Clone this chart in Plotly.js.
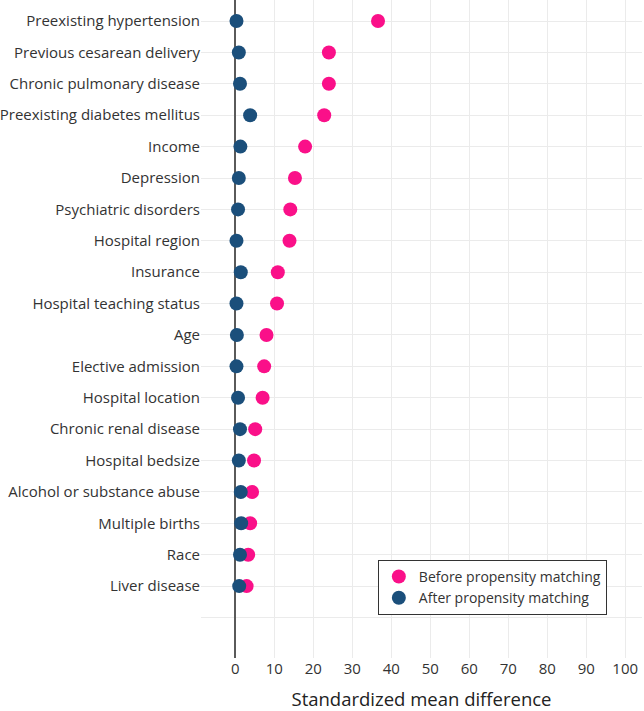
<!DOCTYPE html>
<html>
<head>
<meta charset="utf-8">
<script src="https://cdn.plot.ly/plotly-3.0.1.min.js"></script>
<style>html,body{margin:0;padding:0;background:#fff;}#chart{width:644px;height:711px;}</style>
</head>
<body>
<div id="chart"></div>
<script>
const categories = [
  "Preexisting hypertension",
  "Previous cesarean delivery",
  "Chronic pulmonary disease",
  "Preexisting diabetes mellitus",
  "Income",
  "Depression",
  "Psychiatric disorders",
  "Hospital region",
  "Insurance",
  "Hospital teaching status",
  "Age",
  "Elective admission",
  "Hospital location",
  "Chronic renal disease",
  "Hospital bedsize",
  "Alcohol or substance abuse",
  "Multiple births",
  "Race",
  "Liver disease"
];
const beforeMatching = [36.6, 24.0, 24.0, 22.8, 17.9, 15.3, 14.1, 13.9, 10.9, 10.7, 8.0, 7.4, 7.0, 5.1, 4.8, 4.3, 3.8, 3.3, 2.9];
const afterMatching  = [0.3, 0.9, 1.2, 3.8, 1.3, 0.9, 0.7, 0.3, 1.4, 0.3, 0.4, 0.3, 0.7, 1.2, 0.9, 1.4, 1.5, 1.2, 1.0];
const xTicks = [0, 10, 20, 30, 40, 50, 60, 70, 80, 90, 100];

const rowPos = categories.map((c, i) => i);
const tickPos = rowPos.concat([categories.length]);
const tickText = categories.concat([""]);

const traces = [
  {
    type: "scatter", mode: "markers", name: "Before propensity matching",
    x: beforeMatching, y: rowPos,
    marker: {color: "#FA1089", size: 14}
  },
  {
    type: "scatter", mode: "markers", name: "After propensity matching",
    x: afterMatching, y: rowPos,
    marker: {color: "#1B4F7B", size: 14}
  }
];

const layout = {
  width: 644, height: 711,
  margin: {l: 201, r: 2, t: 0, b: 53},
  paper_bgcolor: "#ffffff", plot_bgcolor: "#ffffff",
  font: {family: "Open Sans, sans-serif", size: 15, color: "#333333"},
  showlegend: true,
  legend: {
    x: 0.401, y: 0.149, xanchor: "left", yanchor: "top",
    bordercolor: "#333333", borderwidth: 1, bgcolor: "#ffffff",
    font: {size: 14, color: "#333333"},
    tracegroupgap: 0
  },
  xaxis: {
    range: [-8.8, 104.3],
    tickvals: xTicks,
    showgrid: true, gridcolor: "#ebebeb", gridwidth: 1,
    zeroline: true, zerolinecolor: "#5a5a5a", zerolinewidth: 1.8,
    showline: false, ticks: "",
    tickfont: {size: 15, color: "#333333"},
    automargin: false,
    title: {text: "Standardized mean difference", font: {size: 18.5, color: "#222222"}, standoff: 21}
  },
  yaxis: {
    range: [20.29, -0.67],
    tickvals: tickPos, ticktext: tickText,
    showgrid: true, gridcolor: "#ebebeb", gridwidth: 1,
    zeroline: false, showline: false, ticks: "",
    automargin: false,
    tickfont: {size: 15, color: "#333333"}
  }
};

Plotly.newPlot("chart", traces, layout, {displayModeBar: false, staticPlot: true});
</script>
</body>
</html>
